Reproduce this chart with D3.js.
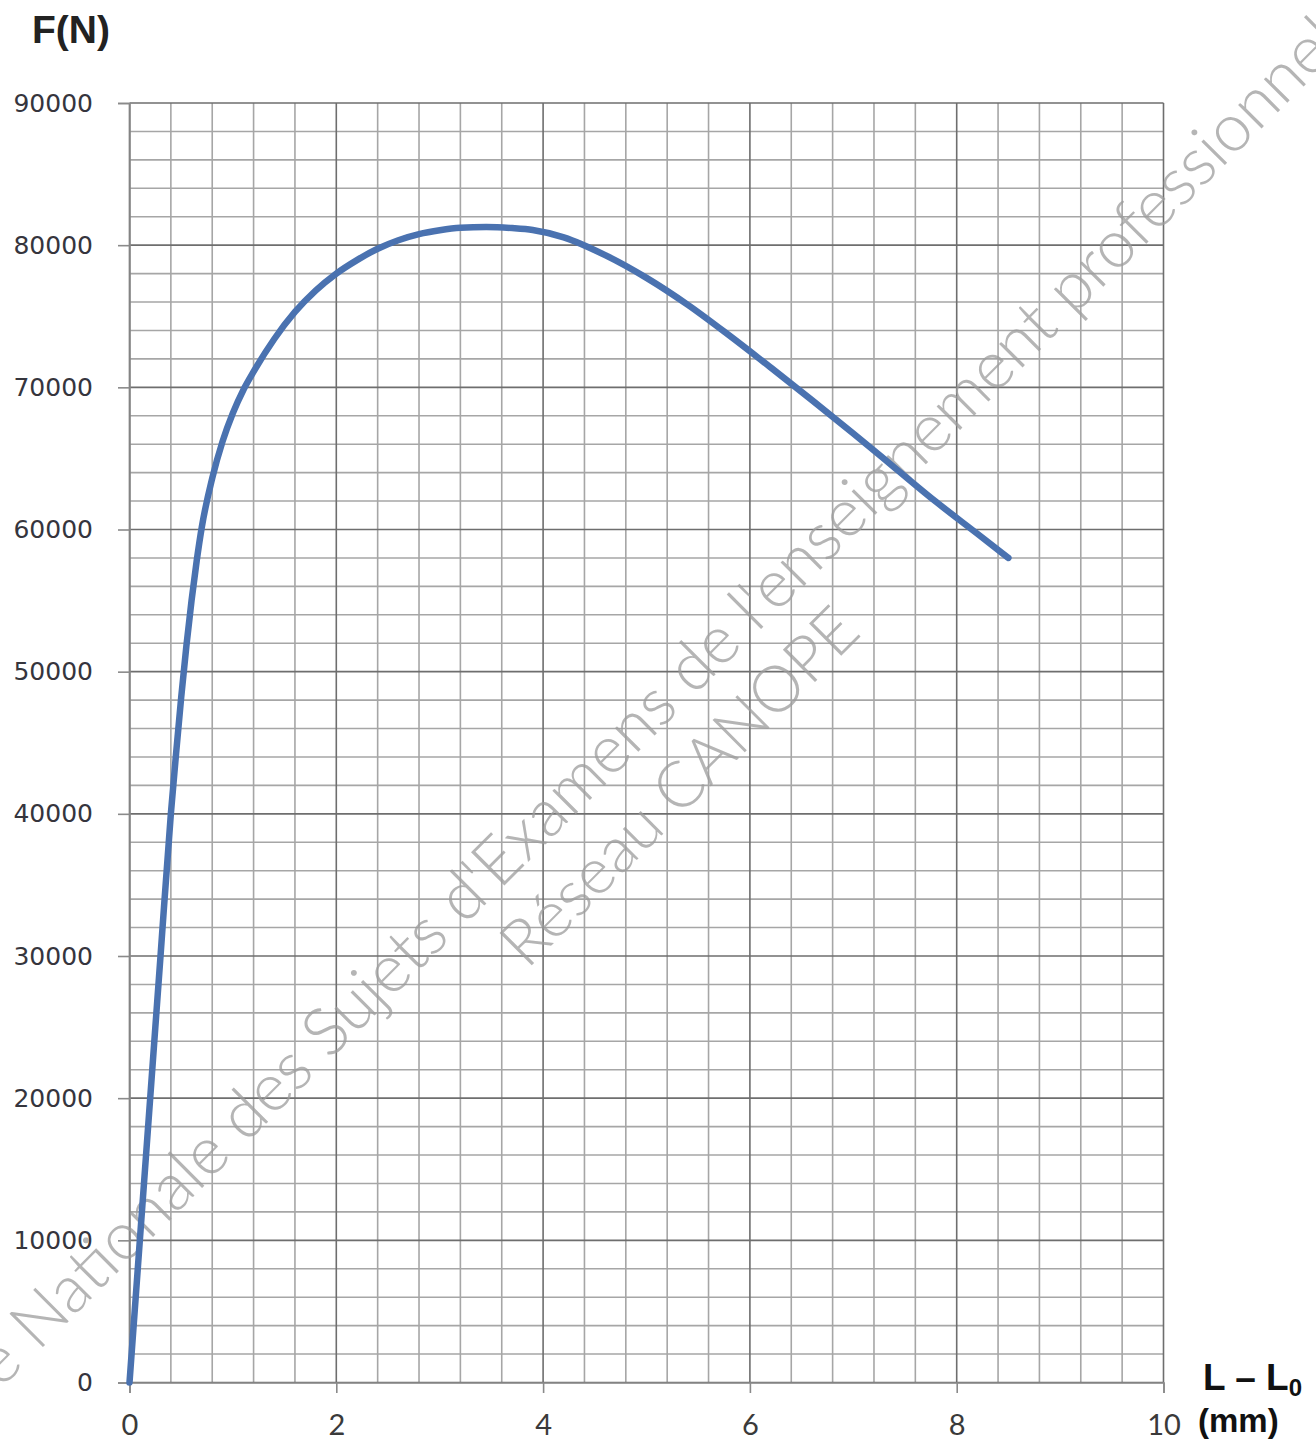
<!DOCTYPE html>
<html><head><meta charset="utf-8">
<script src="https://cdn.jsdelivr.net/npm/d3@7/dist/d3.min.js"></script>
<style>body{margin:0;background:#fff}svg{display:block}</style>
</head><body>
<svg id="chart" width="1316" height="1440"></svg>
<script>
// ---- data ----
const elongation = [0, 0.10, 0.20, 0.30, 0.40, 0.45, 0.50, 0.55, 0.60, 0.65, 0.70, 0.80, 0.90, 1.00, 1.10, 1.20, 1.40, 1.60, 1.80, 2.00, 2.20, 2.40, 2.60, 2.80, 3.00, 3.20, 3.45, 3.70, 3.90, 4.20, 4.60, 5.00, 5.40, 5.80, 6.20, 6.60, 7.00, 7.40, 7.80, 8.20, 8.50];
const force      = [0, 10000, 20000, 30000, 40000, 44200, 48200, 51800, 55000, 57800, 60200, 63600, 66200, 68200, 69800, 71100, 73400, 75300, 76800, 78000, 78950, 79750, 80350, 80780, 81050, 81220, 81270, 81200, 81070, 80550, 79300, 77700, 75800, 73650, 71400, 69100, 66750, 64350, 61950, 59700, 58000];
const xTickValues = [0, 2, 4, 6, 8, 10];
const xTickLabels = ["0", "2", "4", "6", "8", "10"];
const yTickValues = [0, 10000, 20000, 30000, 40000, 50000, 60000, 70000, 80000, 90000];
const yTickLabels = ["0", "10000", "20000", "30000", "40000", "50000", "60000", "70000", "80000", "90000"];
const xMinorStep = 0.4;
const yMinorStep = 2000;
const yTitle = "F(N)";
const xTitleMain = "L – L";
const xTitleSub = "0";
const xTitleUnit = "(mm)";
const watermarkLine1 = "Base Nationale des Sujets d'Examens de l'enseignement professionnel";
const watermarkLine1Prefix = "Base ";
const watermarkLine2 = "Réseau CANOPE";

// ---- layout ----
const svg = d3.select("#chart");
svg.append("rect").attr("width", 1316).attr("height", 1440).attr("fill", "#fff");

const x = d3.scaleLinear().domain([0, 10]).range([129.5, 1163.5]);
const y = d3.scaleLinear().domain([0, 90000]).range([1382.5, 103]);

// minor grid
const grid = svg.append("g");
const xMinor = d3.range(0, 10 + 1e-9, xMinorStep).filter(v => Math.abs(v / 2 - Math.round(v / 2)) > 1e-6);
const yMinor = d3.range(0, 90000 + 1, yMinorStep).filter(v => v % 10000 !== 0);
grid.selectAll("line.vmin").data(xMinor).join("line")
  .attr("x1", d => x(d)).attr("x2", d => x(d)).attr("y1", y(90000)).attr("y2", y(0))
  .attr("stroke", "#a6a6a6").attr("stroke-width", 1.6);
grid.selectAll("line.hmin").data(yMinor).join("line")
  .attr("x1", x(0)).attr("x2", x(10)).attr("y1", d => y(d)).attr("y2", d => y(d))
  .attr("stroke", "#a6a6a6").attr("stroke-width", 1.6);
// major grid
grid.selectAll("line.vmaj").data(xTickValues).join("line")
  .attr("x1", d => x(d)).attr("x2", d => x(d)).attr("y1", y(90000)).attr("y2", y(0))
  .attr("stroke", "#6e6e6e").attr("stroke-width", 1.6);
grid.selectAll("line.hmaj").data(yTickValues).join("line")
  .attr("x1", x(0)).attr("x2", x(10)).attr("y1", d => y(d)).attr("y2", d => y(d))
  .attr("stroke", "#6e6e6e").attr("stroke-width", 1.6);

// axes
const yAxis = d3.axisLeft(y).tickValues(yTickValues)
  .tickFormat((d, i) => yTickLabels[i]).tickSize(11.5).tickPadding(25);
const gy = svg.append("g").attr("transform", `translate(${x(0)},0)`).call(yAxis);
gy.select(".domain").attr("stroke", "#8a8a8a").attr("stroke-width", 1.6);
gy.selectAll(".tick line").attr("stroke", "#8a8a8a").attr("stroke-width", 1.6);
gy.selectAll(".tick text").attr("font-family", "'DejaVu Sans', Verdana, sans-serif")
  .attr("font-size", 25).attr("fill", "#35353d");

const xAxis = d3.axisBottom(x).tickValues(xTickValues)
  .tickFormat((d, i) => xTickLabels[i]).tickSize(10.5).tickPadding(21);
const gx = svg.append("g").attr("transform", `translate(0,${y(0)})`).call(xAxis);
gx.select(".domain").attr("stroke", "#8a8a8a").attr("stroke-width", 1.6);
gx.selectAll(".tick line").attr("stroke", "#8a8a8a").attr("stroke-width", 1.6);
gx.selectAll(".tick text").attr("font-family", "Lato, 'Liberation Sans', sans-serif")
  .attr("font-size", 29).attr("fill", "#3a3a3a");

// watermark
const wm = svg.append("g").attr("fill", "#9c9c9c").attr("fill-opacity", 0.75)
  .attr("font-family", "Lato, 'Open Sans', sans-serif").attr("font-weight", 300);
function fitSize(str, target) {
  const t = wm.append("text").attr("font-size", 100).text(str);
  const w = t.node().getComputedTextLength();
  t.remove();
  return 100 * target / w;
}
const diag = Math.SQRT2;
const part1 = watermarkLine1.slice(watermarkLine1Prefix.length);
const fs1 = fitSize(part1, (1345 - 38) * diag);
const pre = wm.append("text").attr("font-size", fs1).text(watermarkLine1Prefix.replace(" ", "\u00a0"));
const preW = pre.node().getComputedTextLength();
pre.remove();
wm.append("text").attr("font-size", fs1)
  .attr("transform", `translate(38,${1390 - 38}) rotate(-45)`)
  .attr("x", -preW).attr("y", 0)
  .text(watermarkLine1);
const fs2 = fitSize(watermarkLine2, (863 - 527) * diag);
wm.append("text").attr("font-size", fs2)
  .attr("transform", `translate(527,970) rotate(-45)`)
  .text(watermarkLine2);

// curve
const pts = elongation.map((v, i) => [v, force[i]]);
const line = d3.line().x(d => x(d[0])).y(d => y(d[1])).curve(d3.curveMonotoneX);
svg.append("path").datum(pts).attr("d", line)
  .attr("fill", "none").attr("stroke", "#4a72b0").attr("stroke-width", 6.5)
  .attr("stroke-linecap", "round").attr("stroke-linejoin", "round");

// titles
svg.append("text").attr("x", 32).attr("y", 43)
  .attr("font-family", "'Liberation Sans', Arial, sans-serif").attr("font-weight", "bold")
  .attr("font-size", 39).attr("fill", "#222").text(yTitle);
const xt = svg.append("text").attr("x", 1203).attr("y", 1390)
  .attr("font-family", "'Liberation Sans', Arial, sans-serif").attr("font-weight", "bold")
  .attr("font-size", 37).attr("fill", "#111");
xt.append("tspan").text(xTitleMain);
xt.append("tspan").attr("font-size", 24).attr("dy", 6).text(xTitleSub);
svg.append("text").attr("x", 1198).attr("y", 1432)
  .attr("font-family", "'Liberation Sans', Arial, sans-serif").attr("font-weight", "bold")
  .attr("font-size", 33).attr("fill", "#111").text(xTitleUnit);
</script>
</body></html>
